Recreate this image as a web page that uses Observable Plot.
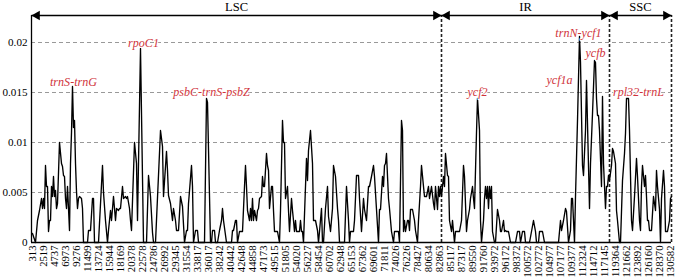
<!DOCTYPE html>
<html>
<head>
<meta charset="utf-8">
<script src="https://cdn.jsdelivr.net/npm/d3@7"></script>
<script src="https://cdn.jsdelivr.net/npm/@observablehq/plot@0.6"></script>
<style>
  html, body { margin: 0; padding: 0; background: #fff; }
  #chart { width: 675px; height: 279px; }
</style>
</head>
<body>
<div id="chart"></div>
<script>
// Sliding-window index (one step per window) and nucleotide diversity (Pi)
const win = [
  0,3,5,7,9,10,11,12,13,14,
  15,16,17,18,19,20,21,22,23,24,
  25,27,29,30,31,32,33,34,35,36,
  37,38,39,40,41,42,43,44,45,46,
  47,49,50,51,55,56,58,60,61,62,
  66,70,71,73,75,76,78,79,80,81,
  83,84,86,87,88,90,91,93,94,95,
  97,98,99,102,104,105,108,111,114,116,
  118,120,121,123,128,130,131,134,135,136,
  138,140,141,143,144,146,148,150,152,154,
  155,156,159,160,161,163,165,166,172,174,
  175,178,179,180,182,183,185,187,189,190,
  191,194,199,200,201,203,204,205,207,210,
  212,213,214,215,217,218,219,220,221,222,
  224,225,226,227,229,230,231,232,234,235,
  236,237,239,240,241,242,245,247,248,250,
  251,252,253,255,256,257,259,260,261,262,
  263,264,265,267,268,269,270,271,273,274,
  275,276,278,280,281,283,285,286,287,289,
  290,291,293,295,296,298,300,301,303,305,
  306,307,312,314,316,317,318,321,322,324,
  326,327,329,331,332,334,336,337,339,341,
  342,344,346,347,348,350,351,352,353,354,
  356,357,359,361,362,366,367,369,370,371,
  372,373,375,376,377,378,380,382,383,385,
  386,388,389,391,392,394,396,397,399,401,
  402,403,405,406,407,408,409,411,412,413,
  415,416,417,419,420,422,423,427,429,431,
  432,434,435,437,438,440,441,442,444,445,
  447,448,449,451,452,453,454,455,456,457,
  458,459,460,462,463,465,467,468,469,471,
  472,473,474,476,478,483,485,487,488,490,
  492,493,497,499,501,503,504,506,507,510,
  512,526,528,529,531,533,534,536,538,539,
  540,542,543,545,547,548,550,551,553,554,
  555,557,558,560,562,563,564,565,566,567,
  569,570,571,573,574,575,576,577,579,580,
  581,583,584,585,587,588,590,592,593,594,
  596,597,599,600,602,604,605,607,608,609,
  610,612,613,614,615,616,617,619,621,623,
  624,625,627,628,629,631,632,633,635,637,
  638,639
];
const pi = [
  .0009,0,.0022,.0032,.0044,.0034,.0044,.0034,.0077,.0056,
  .0056,.0011,.0022,.0022,.0056,.0046,.0066,.0046,.0052,.0034,
  .0039,.0100,.0079,.0076,.0067,.0066,.0044,.0034,.0056,.0034,
  .0012,.0079,.0110,.0156,.0115,.0122,.0079,.0051,.0034,.0044,
  .0046,.0044,.0034,0,0,.0012,.0012,.0044,.0044,0,
  0,.0077,.0050,.0022,0,.0012,.0032,.0022,.0034,.0046,
  .0022,.0034,.0032,.0034,.0034,.0056,.0044,.0046,.0044,.0046,
  .0034,.0022,.0012,.0100,.0079,.0022,.0194,0,0,.0067,
  .0046,.0010,0,0,.0112,.0096,.0046,.0091,.0072,.0047,
  .0039,.0022,.0034,.0022,.0012,.0012,.0046,.0036,0,.0012,
  .0012,.0039,.0077,.0056,0,.0012,.0012,0,0,.0144,
  .0140,0,0,.0012,.0012,0,0,.0012,.0022,.0034,
  .0022,0,0,.0012,.0012,.0022,.0022,0,.0011,.0011,
  .0056,.0077,.0056,.0032,.0022,.0034,.0022,.0044,.0022,.0032,
  .0022,.0032,.0034,.0044,.0046,.0066,.0056,.0056,.0089,.0077,
  .0072,.0034,.0056,.0056,.0032,.0011,.0011,0,.0032,.0122,
  .0100,.0100,.0044,.0056,.0032,.0011,.0044,.0032,.0022,.0011,
  .0022,.0011,.0011,.0011,.0022,.0011,.0011,0,.0056,.0084,
  .0062,.0092,.0112,.0079,.0022,.0022,.0012,0,.0011,.0034,
  0,0,.0034,.0056,.0026,.0011,.0034,.0077,.0066,.0034,
  .0022,0,0,.0056,.0022,0,.0011,.0011,.0022,.0067,
  .0067,.0044,.0011,.0044,.0033,.0022,.0056,.0056,.0066,.0077,
  .0066,.0033,0,.0033,.0033,.0066,.0056,.0077,.0079,.0089,
  .0044,.0034,.0011,0,.0011,.0011,0,.0122,.0112,.0011,
  .0022,.0011,.0022,.0022,.0012,.0033,.0033,.0022,.0012,0,
  .0022,.0056,.0077,.0056,.0046,.0046,.0056,.0044,.0056,.0039,
  .0033,.0056,.0033,.0056,.0046,.0056,.0046,.0066,.0056,.0089,
  .0067,.0066,.0022,.0011,.0022,0,.0011,.0011,.0022,.0077,
  .0066,.0011,.0022,.0033,.0044,.0056,.0044,.0034,.0110,.0144,
  .0112,.0022,0,.0022,.0044,.0056,.0044,.0056,.0034,.0056,
  .0044,.0056,.0011,0,0,.0033,.0022,.0011,.0011,.0022,
  .0011,.0012,.0011,.0011,0,0,.0011,.0011,0,.0011,
  .0011,0,0,.0011,.0022,.0011,0,0,.0011,.0011,
  0,0,.0022,.0012,.0022,.0034,.0031,0,.0012,.0044,
  .0044,0,.0046,.0122,.0206,.0180,.0077,.0067,.0112,.0162,
  .0119,.0034,.0079,.0129,.0182,.0180,.0144,.0127,.0127,.0112,
  .0056,.0146,.0079,.0034,.0056,.0056,.0067,.0062,.0077,.0094,
  .0091,.0079,.0032,.0022,0,0,.0062,.0089,.0109,.0144,
  .0144,.0112,.0022,.0012,.0046,.0084,.0066,.0022,.0012,.0056,
  .0077,.0056,.0067,.0046,.0022,.0022,.0012,.0012,.0046,.0032,
  .0072,.0056,.0033,0,.0044,.0072,.0056,.0011,.0011,.0022,
  .0044,.0046
];

// x tick labels (window mid-point, bp), one every 11 windows
const tickLabels = [
  "313","2519","4737","6973","9276","11499","13724","15944","18169","20378",
  "22578","24786","26992","29345","31554","33817","36017","38242","40442","42648",
  "44858","47173","49515","51805","54020","56227","58454","60702","62948","65153",
  "67362","69601","71811","74026","76226","78427","80634","82863","85117","87317",
  "89550","91760","93972","96172","98372","100572","102772","104977","107177","109377",
  "112324","114712","117145","119364","121662","123892","126160","128370","130582"
];
const yTicks = [0, 0.005, 0.01, 0.015, 0.02];

// Genome regions (in window units)
const regionNames = ["LSC", "IR", "SSC"];
const regionStart = [-1, 409, 577];
const regionEnd = [409, 577, 639];

// Highly variable regions
const geneNames = ["trnS-trnG", "rpoC1", "psbC-trnS-psbZ", "ycf2", "ycf1a", "trnN-ycf1", "ycfb", "rpl32-trnL"];
const geneWin = [41, 111, 179, 445, 527, 546, 563, 606];
const genePi = [0.0160, 0.0199, 0.0150, 0.0150, 0.0162, 0.0209, 0.0189, 0.0150];

// ---- font selection: pick an installed Times-like serif ----
const ctx = document.createElement("canvas").getContext("2d");
function installed(name) {
  const s = "130582 trnS-trnG LSCmwWi";
  for (const generic of ["monospace", "sans-serif"]) {
    ctx.font = `40px ${generic}`;
    const w0 = ctx.measureText(s).width;
    ctx.font = `40px "${name}", ${generic}`;
    if (ctx.measureText(s).width !== w0) return true;
  }
  return false;
}
const serif = ["Liberation Serif", "Times New Roman", "Tinos", "Times", "DejaVu Serif"].find(installed) || "serif";
function fit(text, target, base, style = "") {
  ctx.font = `${style} ${base}px "${serif}", serif`;
  const w = ctx.measureText(text).width;
  return Math.min(base * 1.15, base * target / w);
}
const fsTick = fit("130582", 32, 11);
const fsY = fit("0.015", 25, 12);
const fsRegion = fit("LSC", 23, 12.5);
const fsGene = fit("trnS-trnG", 47, 12, "italic");

const series = win.map((w, i) => ({w, pi: pi[i]}));
const regions = regionNames.map((name, i) => ({name, x1: regionStart[i], x2: regionEnd[i], xm: (regionStart[i] + regionEnd[i]) / 2}));
const genes = geneNames.map((name, i) => ({name, w: geneWin[i], pi: genePi[i]}));
const tickIdx = tickLabels.map((_, i) => i * 11);

const YMAX = 0.0227;
const red = "#d0343c";

const chart = Plot.plot({
  width: 675,
  height: 279,
  marginLeft: 31,
  marginRight: 4,
  marginTop: 15,
  marginBottom: 37,
  style: {background: "white", color: "black", fontFamily: serif},
  x: {domain: [-1, 639], axis: null},
  y: {domain: [0, YMAX], axis: null},
  marks: [
    Plot.ruleY(yTicks.filter(d => d > 0), {stroke: "#999", strokeDasharray: "4,3", strokeWidth: 1}),
    Plot.ruleX([regionEnd[0], regionEnd[1], regionEnd[2]], {y1: 0, y2: YMAX, stroke: "#222", strokeDasharray: "3,2", strokeWidth: 1.6}),
    Plot.line(series, {x: "w", y: "pi", stroke: "black", strokeWidth: 1.35}),
    Plot.ruleX([regionStart[0]], {y1: 0, y2: YMAX, stroke: "black", strokeWidth: 1.3}),
    Plot.ruleY([0], {stroke: "black", strokeWidth: 1.3}),
    Plot.axisY({ticks: yTicks, tickSize: 0, tickPadding: 4, tickFormat: d => String(d), fontSize: fsY, fontFamily: serif, label: null, anchor: "left"}),
    Plot.axisX({ticks: tickIdx, tickFormat: d => tickLabels[Math.round(d / 11)], tickRotate: -90, tickSize: 0, tickPadding: 3, fontSize: fsTick, fontFamily: serif, label: null, anchor: "bottom"}),
    // region arrows
    Plot.link(regions, {x1: "x1", x2: "x2", y1: () => YMAX, y2: () => YMAX, stroke: "black", strokeWidth: 1.3}),
    Plot.dot(regions, {x: "x1", y: () => YMAX, symbol: "triangle", r: 3.6, rotate: -90, fill: "black", stroke: "none", dx: 5.5}),
    Plot.dot(regions, {x: "x2", y: () => YMAX, symbol: "triangle", r: 3.6, rotate: 90, fill: "black", stroke: "none", dx: -5.5}),
    Plot.text(regions, {x: "xm", y: () => YMAX, text: "name", dy: -9, fontSize: fsRegion, fontFamily: serif, fill: "black"}),
    // gene annotations
    Plot.text(genes, {x: "w", y: "pi", text: "name", fill: red, fontStyle: "italic", fontSize: fsGene, fontFamily: serif, stroke: "white", strokeWidth: 2})
  ]
});
document.getElementById("chart").appendChild(chart);
</script>
</body>
</html>
